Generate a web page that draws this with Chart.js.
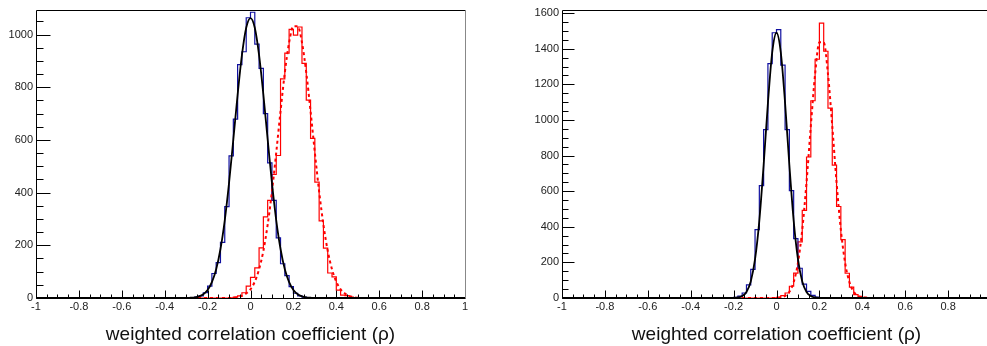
<!DOCTYPE html>
<html>
<head>
<meta charset="utf-8">
<script src="https://cdn.jsdelivr.net/npm/chart.js@4.4.1/dist/chart.umd.min.js"></script>
<style>
  html, body { margin: 0; padding: 0; background: #fff; overflow: hidden; }
  #leftChart { position: absolute; left: 0; top: 0; }
  #rightChart { position: absolute; left: 493px; top: 0; }
</style>
</head>
<body>
<canvas id="leftChart" width="493" height="346"></canvas>
<canvas id="rightChart" width="510" height="346"></canvas>
<script>
// histogram binning: 100 bins of 0.02 from -1 to 1
const binWidth = 0.02;
const xTickValues = [-1, -0.8, -0.6, -0.4, -0.2, 0, 0.2, 0.4, 0.6, 0.8, 1];
const xTickLabels = ['-1', '-0.8', '-0.6', '-0.4', '-0.2', '0', '0.2', '0.4', '0.6', '0.8', '1'];
const yTicksLeft = [0, 200, 400, 600, 800, 1000];
const yTicksRight = [0, 200, 400, 600, 800, 1000, 1200, 1400, 1600];
const axisTitle = 'weighted correlation coefficient (\u03c1)';

// left panel - bin counts, first bin starts at *Start
const leftBlueStart = -0.28;
const leftBlue = [1, 3, 8, 20, 45, 93, 134, 211, 347, 540, 679, 886, 935, 1064,
                  1085, 964, 872, 700, 513, 371, 228, 130, 85, 43, 18, 8, 3, 1];
const leftRedStart = -0.1;
const leftRed = [1, 3, 8, 20, 45, 78, 114, 190, 308, 371, 469, 541, 832, 930, 1020,
                 998, 1029, 891, 751, 606, 440, 293, 189, 95, 80, 30, 11, 9, 3, 1];
// left panel - fitted curves, sampled every 0.02
const leftBlackFitStart = -0.3;
const leftBlackFit = [0, 1, 2.5, 6, 14, 30, 60, 109, 186, 295, 437, 602, 772, 922, 1026, 1063,
                      1026, 922, 772, 602, 437, 295, 186, 109, 60, 30, 14, 6, 2.5, 1, 0];
const leftRedFitStart = -0.1;
const leftRedFit = [0, 1, 3.5, 8, 17, 33, 62, 109, 179, 278, 404, 552, 709, 856, 970, 1032,
                    1032, 970, 856, 709, 552, 404, 278, 179, 109, 62, 33, 17, 8, 3.5, 1, 0];

// right panel
const rightBlueStart = -0.22;
const rightBlue = [1, 4, 10, 28, 74, 161, 384, 631, 946, 1317, 1490,
                   1508, 1308, 946, 603, 334, 167, 78, 37, 15, 5, 2, 1];
const rightRedStart = -0.02;
const rightRed = [1, 4, 13, 28, 66, 140, 315, 492, 792, 1108, 1341, 1544,
                  1386, 1067, 746, 514, 328, 139, 61, 19, 9, 3, 1];
const rightBlackFitStart = -0.22;
const rightBlackFit = [0, 0.6, 3, 11, 34, 93, 218, 435, 747, 1095, 1380, 1490,
                       1380, 1095, 747, 435, 218, 93, 34, 11, 3, 0.6, 0];
const rightRedFitStart = -0.02;
const rightRedFit = [0, 1, 4, 12, 35, 89, 197, 383, 649, 966, 1258, 1436,
                     1436, 1258, 966, 649, 383, 197, 89, 35, 12, 4, 1, 0];

function histPoints(start, counts) {
  const pts = [];
  const n = Math.round(2 / binWidth);
  const first = Math.round((start + 1) / binWidth);
  for (let i = 0; i < n; i++) {
    const j = i - first;
    pts.push({ x: -1 + i * binWidth, y: (j >= 0 && j < counts.length) ? counts[j] : 0 });
  }
  pts.push({ x: 1, y: 0 });
  return pts;
}

function curvePoints(start, vals) {
  const pts = [{ x: -1, y: 0 }];
  vals.forEach((v, i) => pts.push({ x: start + i * binWidth, y: v }));
  pts.push({ x: 1, y: 0 });
  return pts;
}

// ROOT style frame with inward ticks
const rootFrame = {
  id: 'rootFrame',
  afterDatasetsDraw(chart, args, o) {
    const { ctx, chartArea: a, scales: { x, y } } = chart;
    const L = Math.round(a.left) + 0.5, R = Math.round(a.right) + 0.5;
    const T = Math.round(a.top) + 0.5, B = Math.round(a.bottom) + 0.5;
    ctx.save();
    ctx.lineWidth = 1;
    ctx.strokeStyle = '#000';
    ctx.beginPath();
    ctx.moveTo(R, T); ctx.lineTo(L, T); ctx.lineTo(L, B); ctx.lineTo(R, B);
    for (let v = 0; v <= y.max; v += o.yMinor) {
      const py = Math.round(y.getPixelForValue(v)) + 0.5;
      const len = v % o.yMajor === 0 ? o.yMajorLen : o.yMinorLen;
      ctx.moveTo(L, py); ctx.lineTo(L + len, py);
    }
    const nx = Math.round(2 / o.xMinor);
    for (let i = 0; i <= nx; i++) {
      const px = Math.round(x.getPixelForValue(-1 + i * o.xMinor)) + 0.5;
      const len = i % 4 === 0 ? o.xMajorLen : o.xMinorLen;
      ctx.moveTo(px, B); ctx.lineTo(px, B - len);
    }
    ctx.stroke();
    if (o.rightLine) {
      ctx.strokeStyle = '#888';
      ctx.beginPath();
      ctx.moveTo(R, T); ctx.lineTo(R, B);
      ctx.stroke();
    }
    ctx.restore();
  }
};

const tickFont = { family: '"Liberation Sans", Arial, sans-serif', size: 11 };

function makeChart(id, p) {
  return new Chart(document.getElementById(id), {
    type: 'line',
    data: {
      datasets: [
        { data: curvePoints(p.blackFitStart, p.blackFit), borderColor: '#000', borderWidth: 1.8,
          cubicInterpolationMode: 'monotone', pointRadius: 0 },
        { data: curvePoints(p.redFitStart, p.redFit), borderColor: '#ff0000', borderWidth: 2,
          borderDash: [3, 3], cubicInterpolationMode: 'monotone', pointRadius: 0 },
        { data: histPoints(p.blueStart, p.blue), borderColor: '#1010a0', borderWidth: 1.2,
          stepped: 'before', pointRadius: 0 },
        { data: histPoints(p.redStart, p.red), borderColor: '#ff0000', borderWidth: 1.2,
          stepped: 'before', pointRadius: 0 }
      ]
    },
    options: {
      responsive: false,
      animation: false,
      devicePixelRatio: 1,
      layout: { padding: { left: 0, right: p.padRight, top: 7, bottom: 0 } },
      plugins: {
        legend: { display: false },
        tooltip: { enabled: false },
        rootFrame: p.frame
      },
      scales: {
        x: {
          type: 'linear', min: -1, max: 1,
          grid: { display: false, drawTicks: false }, border: { display: false },
          afterBuildTicks: s => { s.ticks = xTickValues.map(v => ({ value: v })); },
          afterFit: s => { s.height = 48; },
          ticks: { autoSkip: false, maxRotation: 0, padding: 2, font: tickFont, color: '#222',
                   callback: (v, i) => xTickLabels[i] },
          title: { display: true, text: axisTitle, color: '#111', padding: 0,
                   font: { family: '"Liberation Sans", Arial, sans-serif', size: 19 } }
        },
        y: {
          type: 'linear', min: 0, max: p.yMax,
          grid: { display: false, drawTicks: false }, border: { display: false },
          afterBuildTicks: s => { s.ticks = p.yTicks.map(v => ({ value: v })); },
          afterFit: s => { s.width = p.yWidth; },
          ticks: { padding: 3, font: tickFont, color: '#222', callback: v => String(v) }
        }
      }
    },
    plugins: [rootFrame]
  });
}

makeChart('leftChart', {
  blue: leftBlue, blueStart: leftBlueStart, red: leftRed, redStart: leftRedStart,
  blackFit: leftBlackFit, blackFitStart: leftBlackFitStart,
  redFit: leftRedFit, redFitStart: leftRedFitStart,
  yMax: 1095, yTicks: yTicksLeft, yWidth: 36, padRight: 28,
  frame: { yMinor: 50, yMajor: 200, yMajorLen: 14, yMinorLen: 7,
           xMinor: 0.05, xMajorLen: 8, xMinorLen: 4, rightLine: true }
});

makeChart('rightChart', {
  blue: rightBlue, blueStart: rightBlueStart, red: rightRed, redStart: rightRedStart,
  blackFit: rightBlackFit, blackFitStart: rightBlackFitStart,
  redFit: rightRedFit, redFitStart: rightRedFitStart,
  yMax: 1620, yTicks: yTicksRight, yWidth: 69, padRight: 12,
  frame: { yMinor: 50, yMajor: 200, yMajorLen: 12, yMinorLen: 6,
           xMinor: 0.05, xMajorLen: 8, xMinorLen: 4, rightLine: false }
});
</script>
</body>
</html>
